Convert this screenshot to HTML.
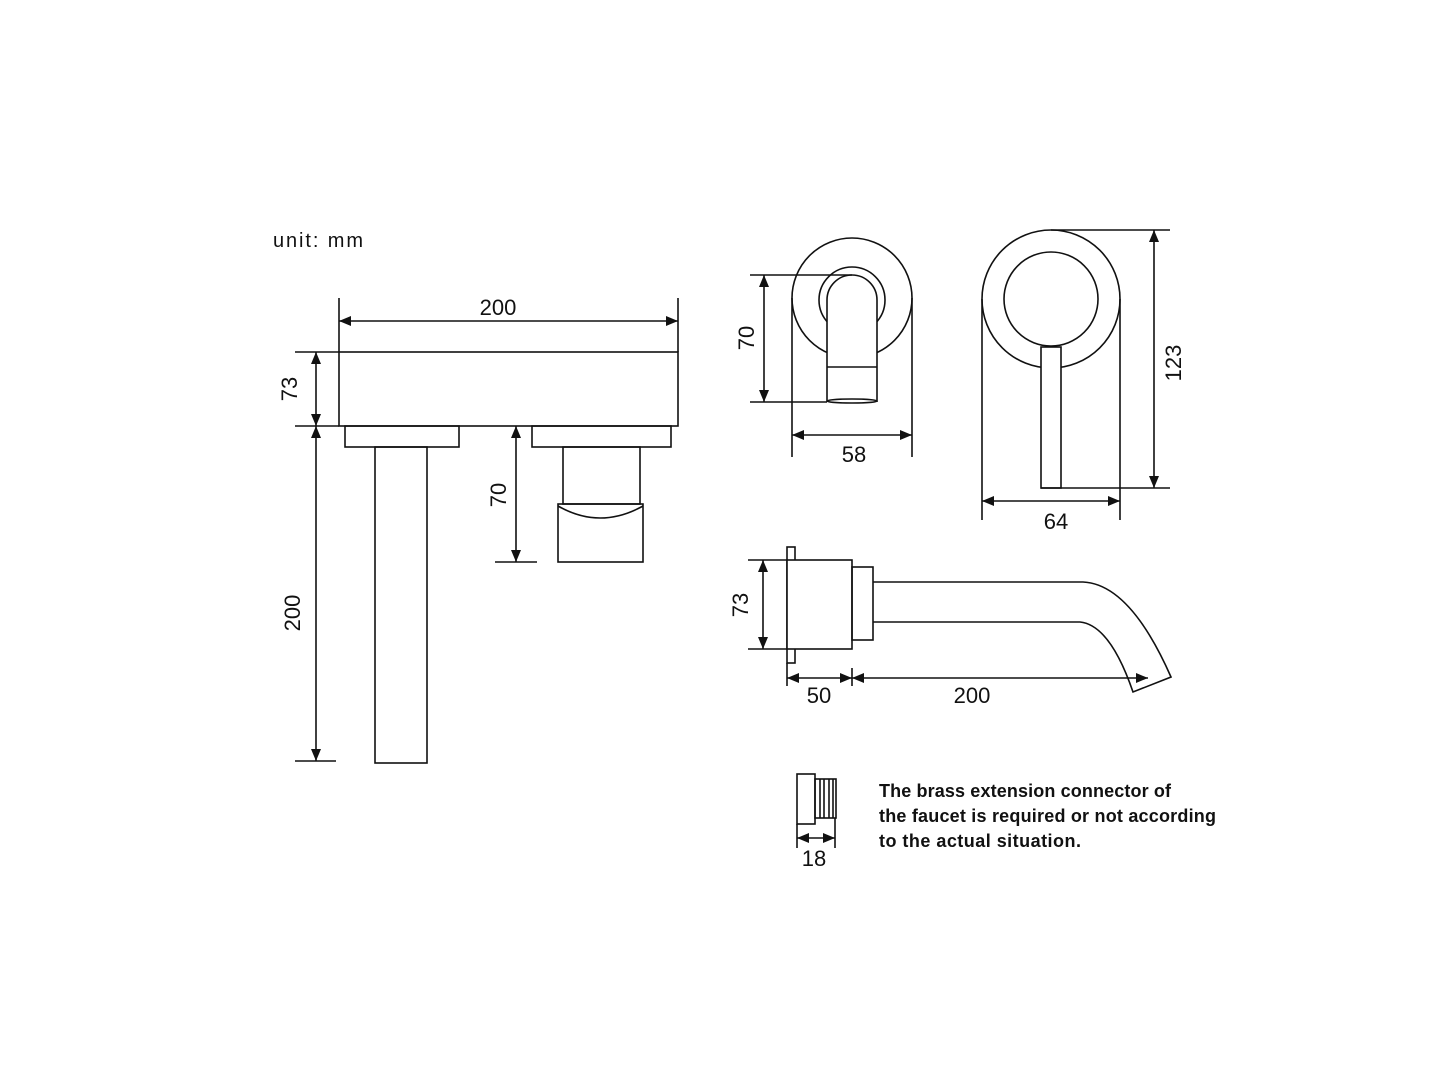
<!DOCTYPE html>
<html><head><meta charset="utf-8"><style>
html,body{margin:0;padding:0;background:#fff;}
svg{display:block;}
text{font-family:"Liberation Sans",sans-serif;fill:#111;}
</style></head><body>
<svg width="1440" height="1080" viewBox="0 0 1440 1080" xmlns="http://www.w3.org/2000/svg">
<defs>
<marker id="a" viewBox="0 0 12 10" refX="12" refY="5" markerWidth="12" markerHeight="10" markerUnits="userSpaceOnUse" orient="auto-start-reverse">
<path d="M0,0 L12,5 L0,10 z" fill="#111"/>
</marker>
</defs>
<g stroke="#111" stroke-width="1.6" fill="none">
<!-- LEFT VIEW -->
<line x1="339" y1="298" x2="339" y2="352"/>
<line x1="678" y1="298" x2="678" y2="352"/>
<line x1="339" y1="321" x2="678" y2="321" marker-start="url(#a)" marker-end="url(#a)"/>
<rect x="339" y="352" width="339" height="74"/>
<line x1="295" y1="352" x2="339" y2="352"/>
<line x1="295" y1="426" x2="339" y2="426"/>
<line x1="316" y1="352" x2="316" y2="426" marker-start="url(#a)" marker-end="url(#a)"/>
<rect x="345" y="426" width="114" height="21"/>
<rect x="375" y="447" width="52" height="316"/>
<line x1="316" y1="426" x2="316" y2="761" marker-start="url(#a)" marker-end="url(#a)"/>
<line x1="295" y1="761" x2="336" y2="761"/>
<rect x="532" y="426" width="139" height="21"/>
<rect x="563" y="447" width="77" height="57"/>
<rect x="558" y="504" width="85" height="58"/>
<path d="M558,506 Q600,530 643,506"/>
<line x1="516" y1="426" x2="516" y2="562" marker-start="url(#a)" marker-end="url(#a)"/>
<line x1="495" y1="562" x2="537" y2="562"/>

<!-- FRONT SPOUT VIEW -->
<circle cx="852" cy="298" r="60"/>
<circle cx="852" cy="300" r="33"/>
<path d="M827,402 L827,300 A25,25 0 0 1 877,300 L877,402" fill="#fff"/>
<line x1="827" y1="367" x2="877" y2="367"/>
<ellipse cx="852" cy="401" rx="25" ry="2"/>
<line x1="750" y1="275" x2="852" y2="275"/>
<line x1="750" y1="402" x2="827" y2="402"/>
<line x1="764" y1="275" x2="764" y2="402" marker-start="url(#a)" marker-end="url(#a)"/>
<line x1="792" y1="298" x2="792" y2="457"/>
<line x1="912" y1="298" x2="912" y2="457"/>
<line x1="792" y1="435" x2="912" y2="435" marker-start="url(#a)" marker-end="url(#a)"/>

<!-- HANDLE VIEW -->
<circle cx="1051" cy="299" r="69"/>
<circle cx="1051" cy="299" r="47"/>
<rect x="1041" y="347" width="20" height="141" fill="#fff"/>
<line x1="1051" y1="230" x2="1170" y2="230"/>
<line x1="1041" y1="488" x2="1170" y2="488"/>
<line x1="1154" y1="230" x2="1154" y2="488" marker-start="url(#a)" marker-end="url(#a)"/>
<line x1="982" y1="299" x2="982" y2="520"/>
<line x1="1120" y1="299" x2="1120" y2="520"/>
<line x1="982" y1="501" x2="1120" y2="501" marker-start="url(#a)" marker-end="url(#a)"/>

<!-- SIDE SPOUT VIEW -->
<rect x="787" y="547" width="8" height="116"/>
<rect x="787" y="560" width="65" height="89" fill="#fff"/>
<rect x="852" y="567" width="21" height="73"/>
<path d="M873,582 L1083,582 Q1130,584 1171,677 L1133,692 Q1110,625 1080,622 L873,622"/>
<line x1="748" y1="560" x2="787" y2="560"/>
<line x1="748" y1="649" x2="787" y2="649"/>
<line x1="763" y1="560" x2="763" y2="649" marker-start="url(#a)" marker-end="url(#a)"/>
<line x1="787" y1="663" x2="787" y2="686"/>
<line x1="852" y1="668" x2="852" y2="686"/>
<line x1="787" y1="678" x2="852" y2="678" marker-start="url(#a)" marker-end="url(#a)"/>
<line x1="852" y1="678" x2="1148" y2="678" marker-start="url(#a)" marker-end="url(#a)"/>

<!-- CONNECTOR -->
<rect x="797" y="774" width="18" height="50"/>
<rect x="815" y="779" width="21" height="39"/>
<line x1="820" y1="779" x2="820" y2="818"/>
<line x1="824" y1="779" x2="824" y2="818"/>
<line x1="829" y1="779" x2="829" y2="818"/>
<line x1="833" y1="779" x2="833" y2="818"/>
<line x1="797" y1="824" x2="797" y2="848"/>
<line x1="835" y1="818" x2="835" y2="848"/>
<line x1="797" y1="838" x2="835" y2="838" marker-start="url(#a)" marker-end="url(#a)"/>
</g>

<g font-size="22">
<text x="273" y="247" font-size="20" textLength="90">unit: mm</text>
<text x="498" y="315" text-anchor="middle">200</text>
<text transform="translate(297,389) rotate(-90)" text-anchor="middle">73</text>
<text transform="translate(300,613) rotate(-90)" text-anchor="middle">200</text>
<text transform="translate(506,495) rotate(-90)" text-anchor="middle">70</text>
<text transform="translate(754,338) rotate(-90)" text-anchor="middle">70</text>
<text x="854" y="462" text-anchor="middle">58</text>
<text transform="translate(1181,363) rotate(-90)" text-anchor="middle">123</text>
<text x="1056" y="529" text-anchor="middle">64</text>
<text transform="translate(748,605) rotate(-90)" text-anchor="middle">73</text>
<text x="819" y="703" text-anchor="middle">50</text>
<text x="972" y="703" text-anchor="middle">200</text>
<text x="814" y="866" text-anchor="middle">18</text>
</g>
<g font-size="18" fill="#111">
<text x="879" y="797" textLength="292" style="font-weight:bold">The brass extension connector of</text>
<text x="879" y="822" textLength="337" style="font-weight:bold">the faucet is required or not according</text>
<text x="879" y="847" textLength="202" style="font-weight:bold">to the actual situation.</text>
</g>
</svg>
</body></html>
